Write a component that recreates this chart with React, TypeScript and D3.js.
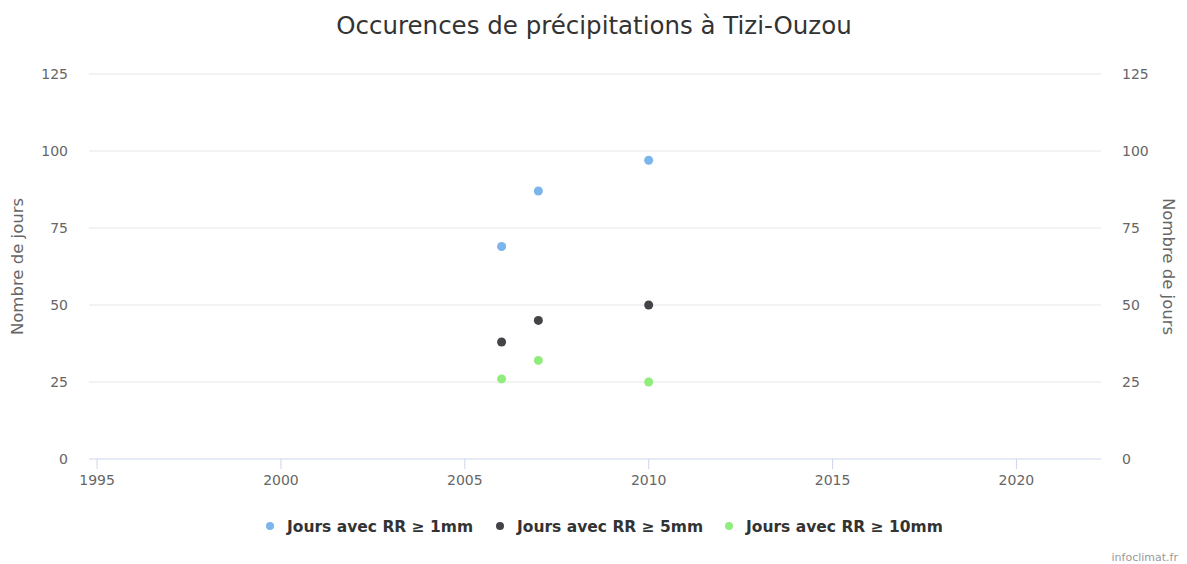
import * as React from 'react';
import * as d3 from 'd3';

const W = 1187;
const H = 564;

// data
const YEARS = [2006, 2007, 2010];
const RR1 = [69, 87, 97];
const RR5 = [38, 45, 50];
const RR10 = [26, 32, 25];
const X_TICKS = [1995, 2000, 2005, 2010, 2015, 2020];
const Y_TICKS = [0, 25, 50, 75, 100, 125];
const SERIES_NAMES = ['Jours avec RR \u2265 1mm', 'Jours avec RR \u2265 5mm', 'Jours avec RR \u2265 10mm'];
const COLORS = ['#7cb5ec', '#434348', '#90ed7d'];

const TITLE = 'Occurences de pr\u00e9cipitations \u00e0 Tizi-Ouzou';
const Y_LABEL = 'Nombre de jours';
const FONT = '"DejaVu Sans", "Open Sans", sans-serif';

const MARGINS = { top: 74, left: 89, right: 86, bottom: 105 };

export default function App() {
    const plotW = W - MARGINS.left - MARGINS.right;
    const plotH = H - MARGINS.top - MARGINS.bottom;

    const xScale = d3.scaleLinear().domain([1994.78, 2022.3]).range([0, plotW]);
    const yScale = d3.scaleLinear().domain([0, 125]).range([plotH, 0]);

    const series = [RR1, RR5, RR10].map((vals, k) => ({
        name: SERIES_NAMES[k],
        color: COLORS[k],
        points: YEARS.map((yr, i) => ({ x: yr, y: vals[i] })),
    }));

    // legend item positions (centered row)
    const legendX = [270, 500, 729];

    return (
        <svg width={W} height={H} style={{ position: 'absolute', left: 0, top: 0, background: '#fff' }}
            fontFamily={FONT}>
            <text x={594} y={34} textAnchor="middle" fontSize={24.5} fill="#333333">{TITLE}</text>

            <g transform={'translate(' + [MARGINS.left, MARGINS.top] + ')'}>
                {/* horizontal grid lines */}
                {Y_TICKS.filter(t => t > 0).map(t => (
                    <line key={'g' + t} x1={0} x2={plotW} y1={yScale(t)} y2={yScale(t)}
                        stroke="#e6e6e6" strokeWidth={1} />
                ))}
                {/* x axis */}
                <line x1={0} x2={plotW} y1={plotH} y2={plotH} stroke="#ccd6eb" strokeWidth={1} />
                {X_TICKS.map(t => (
                    <g key={'x' + t} transform={'translate(' + [xScale(t), plotH] + ')'}>
                        <line y1={0} y2={10} stroke="#ccd6eb" strokeWidth={1} />
                        <text y={26} textAnchor="middle" fontSize={14} fill="#666666">{t}</text>
                    </g>
                ))}
                {/* left y labels */}
                {Y_TICKS.map(t => (
                    <text key={'yl' + t} x={-21} y={yScale(t) + 5} textAnchor="end" fontSize={14} fill="#666666">{t}</text>
                ))}
                {/* right y labels */}
                {Y_TICKS.map(t => (
                    <text key={'yr' + t} x={plotW + 21} y={yScale(t) + 5} textAnchor="start" fontSize={14} fill="#666666">{t}</text>
                ))}

                {/* points */}
                {series.map(s => (
                    <g key={s.name}>
                        {s.points.map(p => (
                            <circle key={p.x} cx={xScale(p.x)} cy={yScale(p.y)} r={4.5} fill={s.color} />
                        ))}
                    </g>
                ))}
            </g>

            {/* axis titles */}
            <text transform={'translate(23,' + (MARGINS.top + plotH / 2) + ') rotate(-90)'} textAnchor="middle"
                fontSize={16.5} fill="#666666">{Y_LABEL}</text>
            <text transform={'translate(1163,' + (MARGINS.top + plotH / 2) + ') rotate(90)'} textAnchor="middle"
                fontSize={16.5} fill="#666666">{Y_LABEL}</text>

            {/* legend */}
            {series.map((s, k) => (
                <g key={'lg' + k} transform={'translate(' + [legendX[k], 526] + ')'}>
                    <circle cx={0} cy={0} r={4} fill={s.color} />
                    <text x={17} y={5.5} fontSize={15.5} fontWeight="bold" fill="#333333">{s.name}</text>
                </g>
            ))}

            <text x={1178} y={561} textAnchor="end" fontSize={11} fill="#999999">infoclimat.fr</text>
        </svg>
    );
}
